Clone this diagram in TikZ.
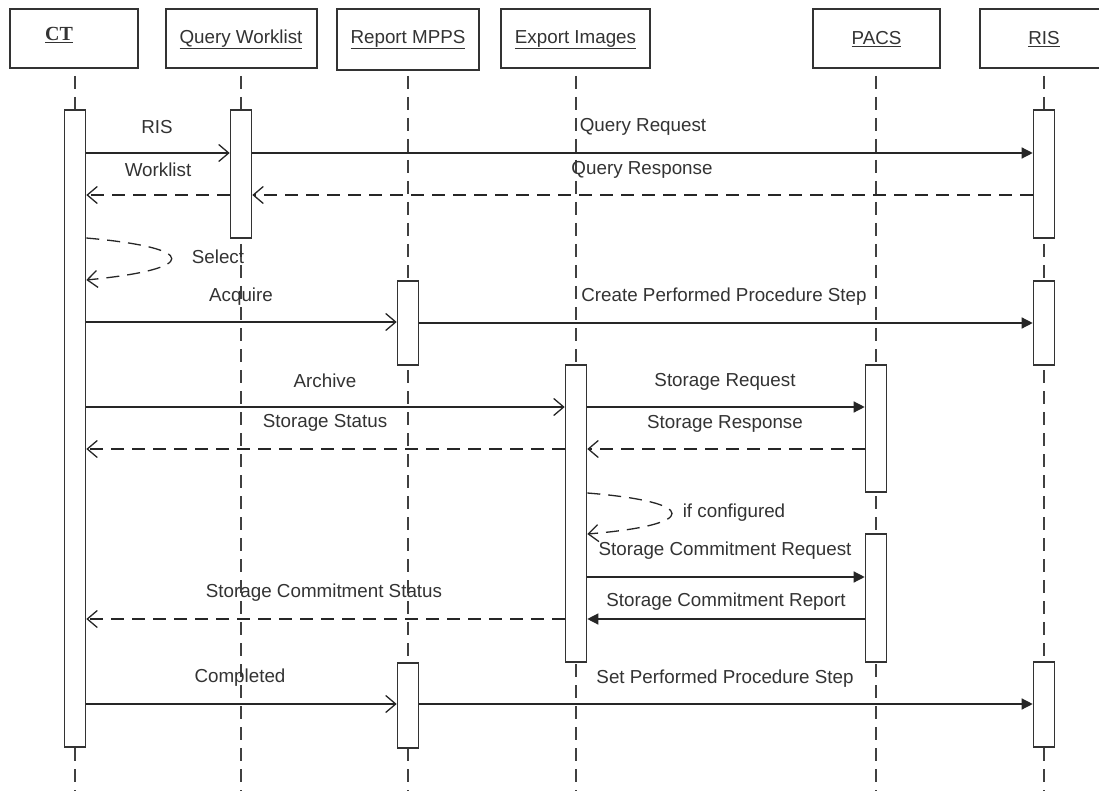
\documentclass[tikz,border=0pt]{standalone}
\usepackage{fontspec}
\setmainfont{Liberation Sans}
\newfontfamily\ctfont{Liberation Serif}
\usetikzlibrary{arrows.meta}
\begin{document}
\begin{tikzpicture}[x=1pt,y=-1pt,
  ln/.style={draw=black!80, line width=1.6pt},
  head/.style={ln, fill=white, minimum height=59pt, inner sep=0pt},
  act/.style={ln, fill=white, minimum width=21pt, inner sep=0pt},
  life/.style={black!75, line width=1.6pt, dash pattern=on 13pt off 8pt},
  lbl/.style={font=\fontsize{18.8}{22}\selectfont, text=black!80, inner sep=0pt},
  call/.style={black!85, line width=1.3pt, -{Straight Barb[length=10pt,width=17pt]}},
  fwd/.style={black!85, line width=1.3pt, -{Triangle[length=11pt,width=11pt]}},
  ret/.style={call, dash pattern=on 13pt off 8pt},
  sret/.style={fwd},
]
\useasboundingbox (0,0) rectangle (1099,791);
\fill[white] (0,0) rectangle (1099,791);

% header boxes
\node[head, minimum width=128pt] (hct) at (74,38.5) {};
\node[lbl, font=\ctfont\bfseries\fontsize{20}{22}\selectfont] (tct) at (59,35) {\underline{CT}};
\node[head, minimum width=151pt] (hqw) at (241.5,38.5) {};
\node[lbl] (tqw) at (241,39.5) {\underline{Query Worklist}};
\node[head, minimum width=142pt, minimum height=61pt] (hmp) at (408,39.5) {};
\node[lbl] (tmp) at (408,39.5) {\underline{Report MPPS}};
\node[head, minimum width=149pt] (hex) at (575.5,38.5) {};
\node[lbl] (tex) at (575.5,39.5) {\underline{Export Images}};
\node[head, minimum width=127pt] (hpa) at (876.5,38.5) {};
\node[lbl] (tpa) at (876.5,39.5) {\underline{PACS}};
\node[head, minimum width=128pt] (hri) at (1044,38.5) {};
\node[lbl] (tri) at (1044,39.5) {\underline{RIS}};

% lifelines
\coordinate (sct) at (75,76);   \coordinate (ect) at (75,795);
\coordinate (sqw) at (241,76);  \coordinate (eqw) at (241,795);
\coordinate (smp) at (408,76);  \coordinate (emp) at (408,795);
\coordinate (sex) at (576,76);  \coordinate (eex) at (576,795);
\coordinate (spa) at (876,76);  \coordinate (epa) at (876,795);
\coordinate (sri) at (1044,76); \coordinate (eri) at (1044,795);
\draw[life] (sct) -- (ect);
\draw[life] (sqw) -- (eqw);
\draw[life] (smp) -- (emp);
\draw[life] (sex) -- (eex);
\draw[life] (spa) -- (epa);
\draw[life] (sri) -- (eri);

% activations
\node[act, minimum height=637pt] (ct) at (75,428.5) {};
\node[act, minimum height=128pt] (qw) at (241,174) {};
\node[act, minimum height=84pt] (mp1) at (408,323) {};
\node[act, minimum height=85pt] (mp2) at (408,705.5) {};
\node[act, minimum height=297pt] (ex) at (576,513.5) {};
\node[act, minimum height=127pt] (pa1) at (876,428.5) {};
\node[act, minimum height=128pt] (pa2) at (876,598) {};
\node[act, minimum height=128pt] (ri1) at (1044,174) {};
\node[act, minimum height=84pt] (ri2) at (1044,323) {};
\node[act, minimum height=85pt] (ri3) at (1044,704.5) {};

% messages
\draw[call] (ct.east |- 0,153) -- (qw.west |- 0,153);
\node[lbl] (l1) at (157,127) {RIS};
\draw[fwd] (qw.east |- 0,153) -- (ri1.west |- 0,153);
\node[lbl] (l2) at (643,127) {Query Request};
\draw[ret] (ri1.west |- 0,195) -- (qw.east |- 0,195);
\node[lbl] (l3) at (642,170) {Query Response};
\draw[ret] (qw.west |- 0,195) -- (ct.east |- 0,195);
\node[lbl] (l4) at (158,170) {Worklist};

\draw[ret] (ct.east |- 0,238) .. controls (200,248) and (200,269) .. (ct.east |- 0,280);
\node[lbl] (l5) at (218,257) {Select};

\draw[call] (ct.east |- 0,322) -- (mp1.west |- 0,322);
\node[lbl] (l6) at (241,297) {Acquire};
\draw[fwd] (mp1.east |- 0,323) -- (ri2.west |- 0,323);
\node[lbl] (l7) at (724,297) {Create Performed Procedure Step};

\draw[call] (ct.east |- 0,407) -- (ex.west |- 0,407);
\node[lbl] (l8) at (325,381) {Archive};
\draw[fwd] (ex.east |- 0,407) -- (pa1.west |- 0,407);
\node[lbl] (l9) at (725,382) {Storage Request};
\draw[ret] (pa1.west |- 0,449) -- (ex.east |- 0,449);
\node[lbl] (l10) at (725,424) {Storage Response};
\draw[ret] (ex.west |- 0,449) -- (ct.east |- 0,449);
\node[lbl] (l11) at (325,423) {Storage Status};

\draw[ret] (ex.east |- 0,493) .. controls (700,502) and (700,525) .. (ex.east |- 0,534);
\node[lbl] (l12) at (734,513) {if configured};

\draw[fwd] (ex.east |- 0,577) -- (pa2.west |- 0,577);
\node[lbl] (l13) at (725,551) {Storage Commitment Request};
\draw[sret] (pa2.west |- 0,619) -- (ex.east |- 0,619);
\node[lbl] (l14) at (726,602) {Storage Commitment Report};
\draw[ret] (ex.west |- 0,619) -- (ct.east |- 0,619);
\node[lbl] (l15) at (324,593) {Storage Commitment Status};

\draw[call] (ct.east |- 0,704) -- (mp2.west |- 0,704);
\node[lbl] (l16) at (240,678) {Completed};
\draw[fwd] (mp2.east |- 0,704) -- (ri3.west |- 0,704);
\node[lbl] (l17) at (725,679) {Set Performed Procedure Step};
\end{tikzpicture}
\end{document}
